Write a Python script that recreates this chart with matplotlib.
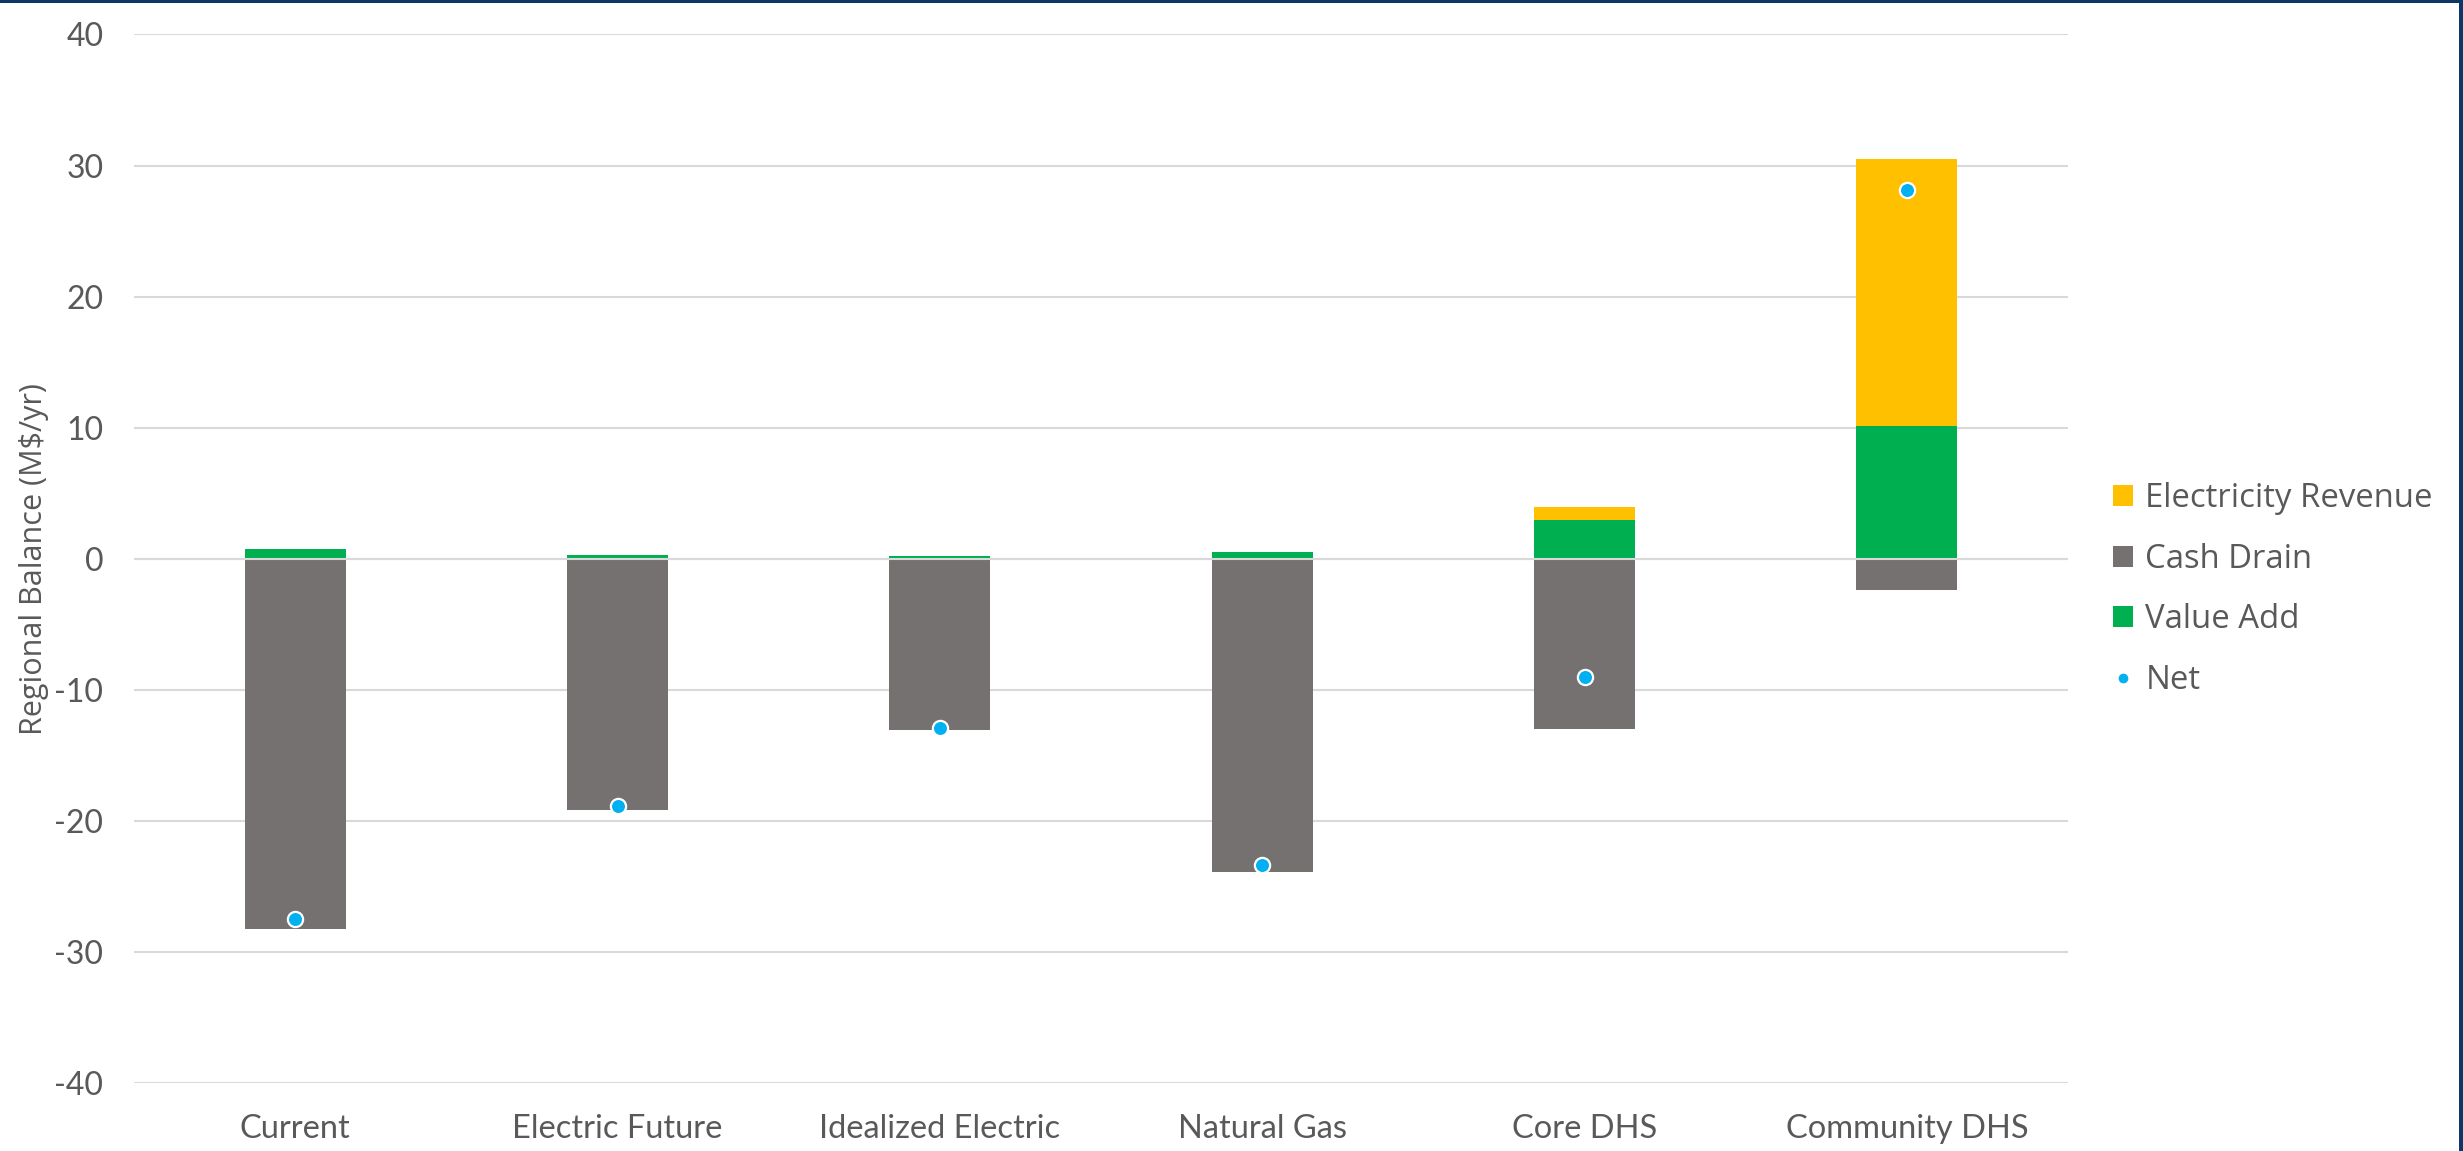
import matplotlib
matplotlib.use('Agg')
import matplotlib.pyplot as plt
from matplotlib.patches import Patch, Rectangle
from matplotlib.lines import Line2D
import numpy as np

plt.rcParams['font.family'] = ['Lato', 'DejaVu Sans']
plt.rcParams['axes.unicode_minus'] = False

# values (M$/yr)
scenarios = ["Current", "Electric Future", "Idealized Electric", "Natural Gas", "Core DHS", "Community DHS"]
value_add = [0.76, 0.25, 0.18, 0.48, 2.94, 10.1]
cash_drain = [-28.26, -19.16, -13.09, -23.93, -12.96, -2.39]
elec_revenue = [0.0, 0.0, 0.0, 0.0, 1.02, 20.4]
net = [-27.5, -18.86, -12.88, -23.38, -9.02, 28.1]
y_ticks = [-40, -30, -20, -10, 0, 10, 20, 30, 40]

c_rev = '#FFC000'
c_drain = '#767171'
c_add = '#00B050'
c_net = '#00B0F0'
txt = '#595959'
grid_c = '#D9D9D9'
navy = '#0E3766'

W, H = 2463, 1151
fig = plt.figure(figsize=(W / 100, H / 100), dpi=100, facecolor='white')
ax = fig.add_axes([134 / W, 1 - 1083 / H, (2068 - 134) / W, (1083 - 34.5) / H])

x = np.arange(len(scenarios))
bw = 0.313
ax.bar(x, cash_drain, bw, color=c_drain, zorder=2)
ax.bar(x, value_add, bw, color=c_add, zorder=2)
ax.bar(x, elec_revenue, bw, bottom=value_add, color=c_rev, zorder=2)
ax.scatter(x, net, s=120, color=c_net, edgecolors='white', linewidths=1.6, zorder=4)
ax.axhline(0, color=grid_c, lw=1.5, zorder=3)

ax.set_xlim(-0.5, len(scenarios) - 0.5)
ax.set_ylim(-40, 40)
ax.set_yticks(y_ticks)
ax.set_xticks(x)
ax.set_xticklabels(scenarios)
ax.yaxis.grid(True, color=grid_c, lw=1.5, zorder=0)
ax.set_axisbelow(True)
for s in ax.spines.values():
    s.set_visible(False)
ax.tick_params(axis='both', length=0, colors=txt)
ax.tick_params(axis='y', pad=22, labelsize=23)
ax.tick_params(axis='x', pad=22, labelsize=23.5)

# y label placed directly in figure coords, centred on the zero line
fig.text(34 / W, 1 - 559 / H, "Regional Balance (M$/yr)", rotation=90, ha='center', va='center',
         color=txt, fontsize=22, family=['Open Sans', 'DejaVu Sans'])

handles = [
    Patch(facecolor=c_rev),
    Patch(facecolor=c_drain),
    Patch(facecolor=c_add),
    Line2D([], [], ls='none', marker='o', markersize=8, markerfacecolor=c_net, markeredgecolor='white'),
]
labels = ["Electricity Revenue", "Cash Drain", "Value Add", "Net"]
leg = fig.legend(handles, labels, loc='center left', bbox_to_anchor=(2113 / W, 1 - 589.5 / H),
                 frameon=False, borderpad=0, borderaxespad=0,
                 prop={'family': ['Open Sans', 'DejaVu Sans'], 'size': 23.7},
                 handlelength=0.6, handleheight=0.6, handletextpad=0.38, labelspacing=0.84)
for t in leg.get_texts():
    t.set_color(txt)

# dark frame lines along the top and right edge
fig.add_artist(Rectangle((0, 1 - 2.5 / H), 1, 2.5 / H, transform=fig.transFigure, color=navy, lw=0))
fig.add_artist(Rectangle((1 - 4 / W, 0), 4 / W, 1, transform=fig.transFigure, color=navy, lw=0))

fig.savefig('out.png', dpi=100, facecolor='white')
